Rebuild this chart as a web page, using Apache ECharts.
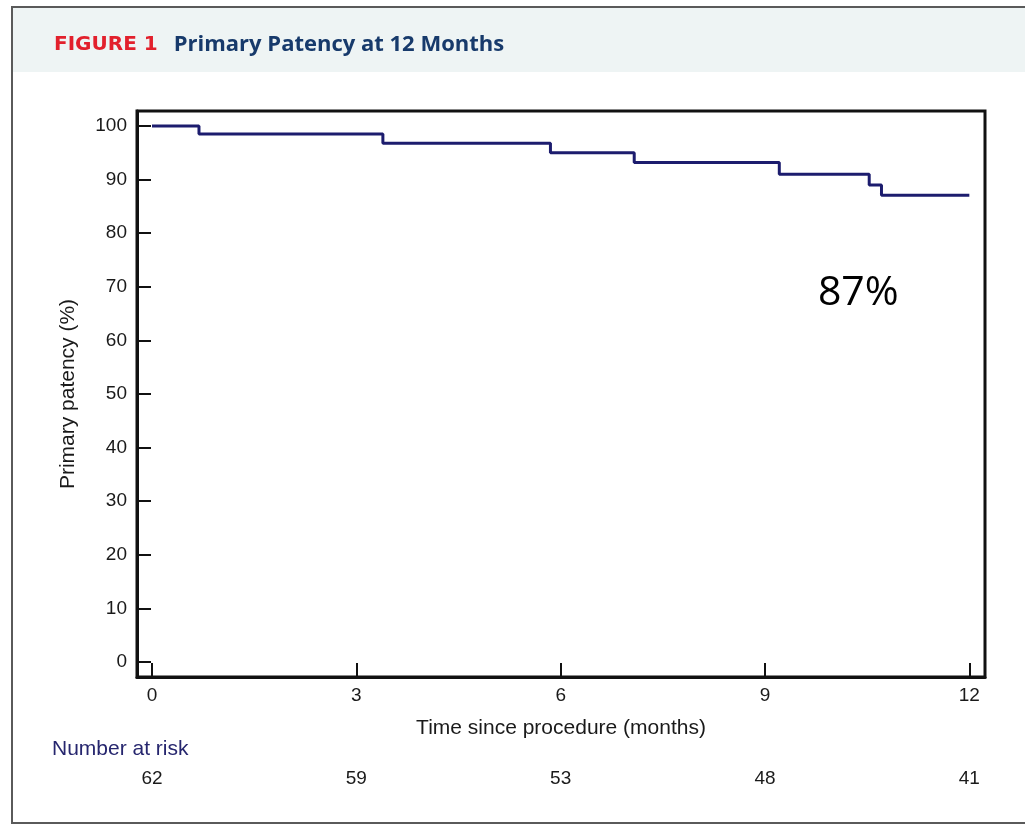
<!DOCTYPE html>
<html>
<head>
<meta charset="utf-8">
<script src="https://cdn.jsdelivr.net/npm/echarts@6/dist/echarts.min.js"></script>
<style>
html,body{margin:0;padding:0;background:#fff;}
#c{width:1025px;height:830px;}
</style>
</head>
<body>
<div id="c"></div>
<script>
// Data
var stepTimes  = [0, 0.69, 3.39, 5.85, 7.08, 9.21, 10.53, 10.71, 12];
var stepValues = [100, 98.5, 96.8, 95.0, 93.2, 91.0, 89.0, 87.1, 87.1];
var xTicks = [0, 3, 6, 9, 12];
var yTicks = [0, 10, 20, 30, 40, 50, 60, 70, 80, 90, 100];
var atRisk = [62, 59, 53, 48, 41];
var finalLabel = '87%';

var lineData = stepTimes.map(function (t, i) { return [t, stepValues[i]]; });
var riskMap = {};
xTicks.forEach(function (t, i) { riskMap[t] = atRisk[i]; });

var FONT = '"Liberation Sans", Arial, sans-serif';

var chart = echarts.init(document.getElementById('c'), null, {renderer: 'canvas'});
chart.setOption({
  backgroundColor: '#ffffff',
  animation: false,
  graphic: [
    {type: 'rect', z: -10, shape: {x: 12, y: 7, width: 1030, height: 816},
     style: {fill: '#ffffff', stroke: '#5a5a5a', lineWidth: 2}},
    {type: 'rect', z: -9, shape: {x: 13, y: 8, width: 1012, height: 64},
     style: {fill: '#eef4f4'}},
    {type: 'text', left: 52, top: 739,
     style: {text: 'Number at risk', font: '21px ' + FONT, fill: '#26266e'}}
  ],
  title: {
    left: 49, top: 29,
    text: '{a|FIGURE 1}{s| }{b|Primary Patency at 12 Months}',
    textStyle: {
      rich: {
        a: {fontFamily: 'DejaVu Sans', fontWeight: 'bold', fontSize: 20, color: '#e2202c'},
        s: {fontFamily: 'Open Sans', fontSize: 20, width: 16},
        b: {fontFamily: 'Open Sans', fontWeight: 'bold', fontSize: 22, color: '#173a6b'}
      }
    }
  },
  grid: {
    left: 137, right: 40, top: 111, bottom: 153,
    show: true, borderColor: '#111', borderWidth: 3, backgroundColor: '#fff'
  },
  xAxis: [{
    type: 'value', min: -0.22, max: 12.23,
    splitLine: {show: false},
    axisLine: {show: true, onZero: false, lineStyle: {color: '#111', width: 3}},
    axisTick: {show: true, inside: true, length: 14, customValues: xTicks, lineStyle: {color: '#111', width: 2}},
    axisLabel: {customValues: xTicks, margin: 9, fontFamily: FONT, fontSize: 19, color: '#1a1a1a'},
    name: 'Time since procedure (months)', nameLocation: 'middle', nameGap: 41,
    nameTextStyle: {fontFamily: FONT, fontSize: 21, color: '#1a1a1a'}
  }, {
    type: 'value', min: -0.22, max: 12.23, position: 'bottom', offset: 92,
    splitLine: {show: false}, axisLine: {show: false}, axisTick: {show: false},
    axisLabel: {customValues: xTicks, margin: 0, fontFamily: FONT, fontSize: 19, color: '#1a1a1a',
      formatter: function (v) { return String(riskMap[v]); }}
  }],
  yAxis: {
    type: 'value', min: -2.8, max: 102.8,
    splitLine: {show: false},
    axisLine: {show: true, onZero: false, lineStyle: {color: '#111', width: 3}},
    axisTick: {show: true, inside: true, length: 14, customValues: yTicks, lineStyle: {color: '#111', width: 2}},
    axisLabel: {customValues: yTicks, margin: 10, fontFamily: FONT, fontSize: 19, color: '#1a1a1a'},
    name: 'Primary patency (%)', nameLocation: 'middle', nameGap: 58, nameRotate: 90,
    nameTextStyle: {fontFamily: FONT, fontSize: 21, color: '#1a1a1a'}
  },
  series: [{
    type: 'line', step: 'end', data: lineData, xAxisIndex: 0,
    symbol: 'none', lineStyle: {color: '#1c1c6e', width: 3},
    markPoint: {
      symbol: 'circle', symbolSize: 0,
      label: {show: true, formatter: finalLabel, fontFamily: '"Open Sans", "Noto Sans", sans-serif', fontSize: 41, color: '#000'},
      data: [{coord: [10.37, 68.7], value: 87}]
    }
  }]
});
</script>
</body>
</html>
